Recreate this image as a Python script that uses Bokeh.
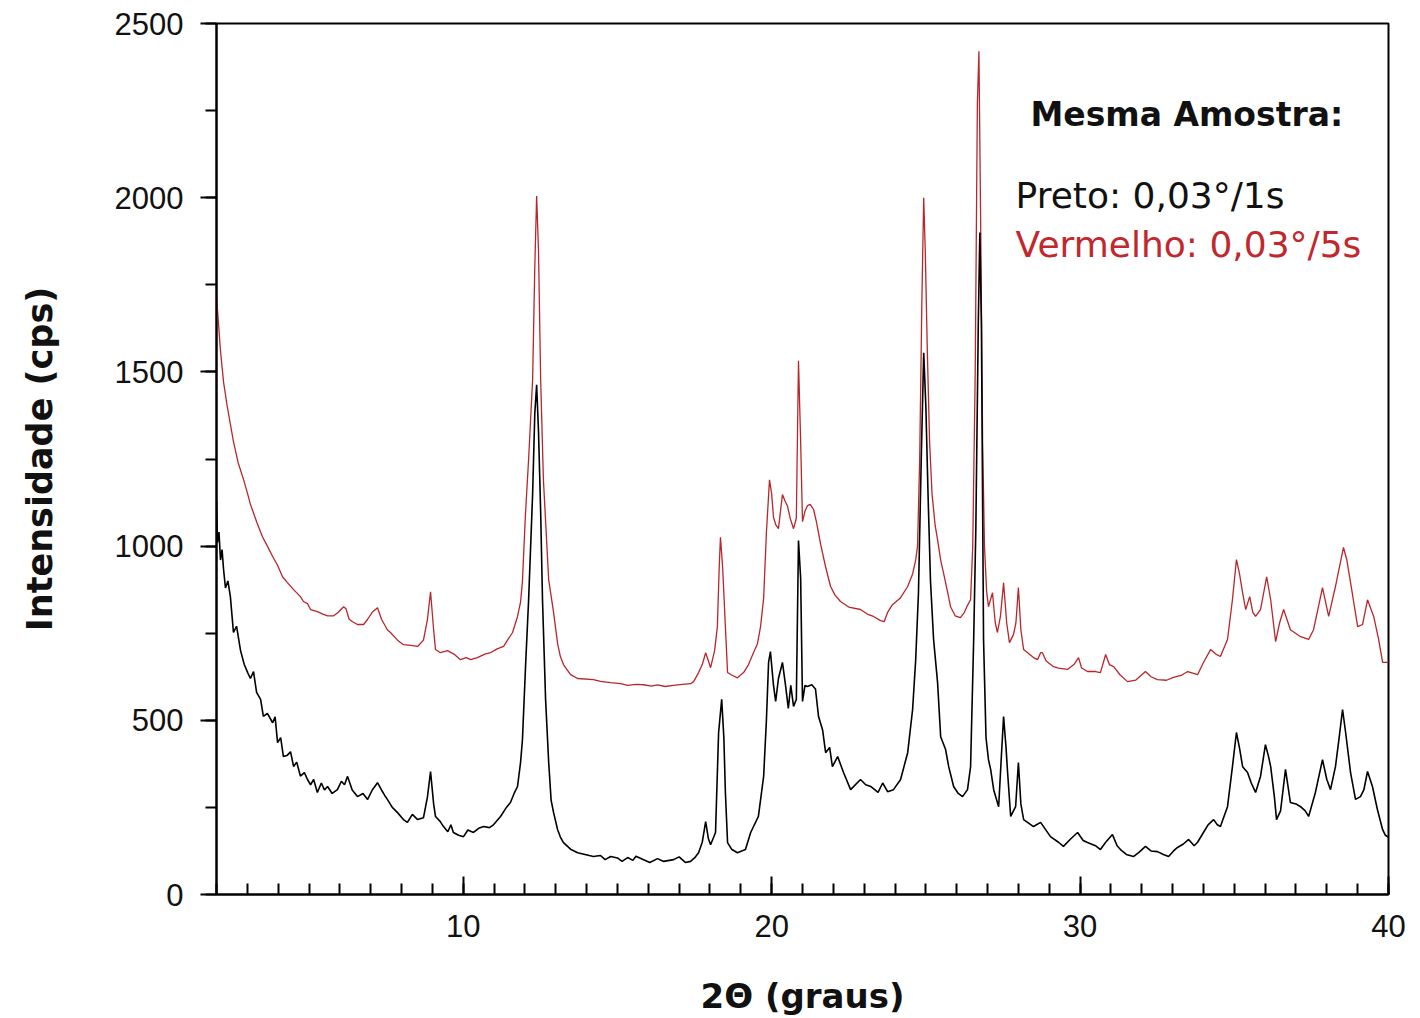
from bokeh.plotting import figure
from bokeh.models import Range1d, SingleIntervalTicker, Label
from bokeh.embed import file_html
from bokeh.resources import INLINE

# ---- data (2theta in degrees, intensity in cps) ----
red_x = [2.00, 2.03, 2.13, 2.23, 2.35, 2.45, 2.55, 2.70, 2.88, 3.01, 3.10, 3.30, 3.49, 3.65, 3.82, 3.98,
         4.14, 4.30, 4.50, 4.72, 4.82, 4.95, 5.05, 5.27, 5.45, 5.60, 5.80, 5.95, 6.12, 6.20, 6.30, 6.41,
         6.57, 6.77, 6.90, 7.05, 7.22, 7.35, 7.54, 7.64, 7.87, 8.06, 8.30, 8.52, 8.71, 8.84, 8.94, 9.04,
         9.10, 9.26, 9.49, 9.70, 9.91, 10.10, 10.24, 10.46, 10.70, 10.88, 11.10, 11.31, 11.44, 11.60,
         11.76, 11.86, 11.92, 12.02, 12.12, 12.25, 12.32, 12.38, 12.44, 12.51, 12.60, 12.77, 12.93,
         13.06, 13.15, 13.25, 13.48, 13.71, 14.22, 14.45, 14.78, 15.10, 15.33, 15.60, 15.85, 16.10,
         16.30, 16.55, 16.82, 17.10, 17.37, 17.47, 17.63, 17.75, 17.86, 17.95, 18.02, 18.15, 18.24,
         18.30, 18.34, 18.41, 18.50, 18.57, 18.70, 18.89, 19.09, 19.25, 19.41, 19.54, 19.64, 19.74,
         19.83, 19.93, 20.00, 20.06, 20.14, 20.22, 20.35, 20.43, 20.51, 20.60, 20.71, 20.80, 20.87,
         20.94, 21.00, 21.08, 21.16, 21.25, 21.36, 21.45, 21.59, 21.75, 21.91, 22.05, 22.23, 22.50,
         22.88, 23.10, 23.30, 23.53, 23.65, 23.76, 23.90, 24.18, 24.41, 24.57, 24.67, 24.73, 24.80,
         24.87, 24.93, 24.98, 25.05, 25.12, 25.20, 25.30, 25.38, 25.48, 25.57, 25.70, 25.80, 25.95,
         26.12, 26.25, 26.35, 26.45, 26.52, 26.60, 26.67, 26.72, 26.78, 26.84, 26.90, 26.97, 27.03,
         27.16, 27.25, 27.32, 27.42, 27.52, 27.62, 27.71, 27.84, 27.92, 28.00, 28.08, 28.17, 28.35,
         28.49, 28.62, 28.72, 28.78, 28.90, 29.14, 29.30, 29.59, 29.80, 29.95, 30.05, 30.24, 30.50,
         30.66, 30.83, 30.95, 31.09, 31.30, 31.54, 31.80, 32.12, 32.30, 32.51, 32.80, 33.03, 33.30,
         33.49, 33.81, 34.00, 34.23, 34.40, 34.55, 34.78, 34.94, 35.07, 35.17, 35.27, 35.37, 35.50,
         35.60, 35.69, 35.85, 36.05, 36.18, 36.34, 36.47, 36.60, 36.82, 37.15, 37.41, 37.57, 37.86,
         38.06, 38.28, 38.54, 38.65, 38.77, 39.00, 39.16, 39.32, 39.52, 39.68, 39.81, 40.00]
red_y = [1720, 1680, 1560, 1470, 1400, 1350, 1300, 1240, 1190, 1150, 1120, 1070, 1027, 1000, 970, 945,
         912, 895, 875, 855, 841, 835, 818, 812, 805, 800, 800, 810, 826, 820, 790, 783,
         775, 775, 790, 810, 823, 790, 760, 752, 730, 717, 715, 712, 730, 790, 869, 760,
         703, 694, 700, 690, 674, 680, 674, 680, 690, 694, 705, 712, 731, 752,
         798, 840, 900, 1096, 1250, 1478, 1800, 2005, 1850, 1478, 1190, 904, 809,
         720, 683, 660, 631, 620, 617, 612, 608, 605, 600, 603, 602, 598,
         602, 597, 600, 603, 605, 611, 637, 660, 694, 670, 651, 700, 769,
         941, 1025, 940, 769, 637, 630, 622, 637, 660, 694, 720, 769, 850,
         1039, 1190, 1150, 1082, 1060, 1050, 1148, 1130, 1116, 1080, 1050, 1080, 1532,
         1300, 1070, 1100, 1116, 1120, 1105, 1070, 1004, 940, 884, 860, 841, 825,
         818, 805, 798, 786, 783, 810, 830, 852, 884, 920, 960, 1000, 1250,
         1700, 2000, 1850, 1550, 1300, 1150, 1060, 1018, 960, 924, 870, 826, 800,
         795, 810, 830, 846, 1000, 1500, 2270, 2420, 1900, 1300, 1000, 870, 826,
         866, 780, 752, 800, 895, 780, 723, 746, 780, 881, 760, 703, 690,
         680, 674, 694, 694, 670, 654, 650, 646, 660, 680, 650, 640, 640,
         637, 689, 660, 654, 630, 611, 615, 640, 625, 617, 615, 623, 630,
         640, 631, 666, 703, 690, 683, 732, 846, 961, 920, 866, 818, 855,
         810, 798, 818, 912, 846, 726, 780, 818, 760, 740, 732, 760, 881,
         798, 884, 996, 960, 895, 769, 775, 846, 798, 732, 666, 666]

black_x = [2.00, 2.03, 2.08, 2.13, 2.18, 2.23, 2.29, 2.37, 2.45, 2.55, 2.65, 2.78, 2.90, 3.01, 3.10,
           3.20, 3.30, 3.43, 3.52, 3.65, 3.82, 3.90, 3.98, 4.08, 4.17, 4.30, 4.40, 4.50, 4.60, 4.72,
           4.85, 4.95, 5.05, 5.15, 5.27, 5.40, 5.50, 5.60, 5.75, 5.92, 6.05, 6.15, 6.25, 6.40, 6.57,
           6.75, 6.90, 7.05, 7.22, 7.35, 7.45, 7.54, 7.70, 7.87, 8.06, 8.19, 8.35, 8.52, 8.71, 8.84,
           8.94, 9.04, 9.10, 9.25, 9.36, 9.50, 9.60, 9.68, 9.85, 10.01, 10.15, 10.33, 10.50, 10.66,
           10.85, 10.98, 11.21, 11.40, 11.53, 11.65, 11.76, 11.86, 11.92, 12.02, 12.12, 12.25, 12.32,
           12.38, 12.44, 12.51, 12.57, 12.67, 12.77, 12.85, 12.93, 13.06, 13.15, 13.25, 13.48, 13.71,
           13.95, 14.22, 14.45, 14.60, 14.78, 15.00, 15.15, 15.33, 15.50, 15.60, 15.85, 16.05, 16.30,
           16.50, 16.82, 17.00, 17.20, 17.37, 17.50, 17.63, 17.75, 17.86, 17.95, 18.02, 18.18, 18.28,
           18.38, 18.45, 18.50, 18.57, 18.70, 18.89, 19.15, 19.32, 19.57, 19.74, 19.83, 19.90, 19.96,
           20.06, 20.13, 20.22, 20.35, 20.45, 20.54, 20.62, 20.71, 20.80, 20.87, 20.94, 21.00, 21.08,
           21.16, 21.30, 21.42, 21.52, 21.65, 21.75, 21.88, 21.97, 22.14, 22.33, 22.56, 22.88, 23.05,
           23.21, 23.45, 23.60, 23.76, 23.95, 24.18, 24.41, 24.57, 24.67, 24.76, 24.85, 24.93, 25.00,
           25.07, 25.15, 25.25, 25.38, 25.48, 25.64, 25.74, 25.90, 26.05, 26.19, 26.35, 26.45, 26.55,
           26.62, 26.70, 26.75, 26.80, 26.87, 26.95, 27.03, 27.10, 27.20, 27.36, 27.45, 27.52, 27.60,
           27.65, 27.75, 27.91, 28.00, 28.08, 28.17, 28.49, 28.72, 29.04, 29.30, 29.46, 29.70, 29.92,
           30.10, 30.24, 30.50, 30.66, 30.83, 31.05, 31.20, 31.31, 31.50, 31.73, 31.90, 32.12, 32.30,
           32.51, 32.70, 32.87, 33.03, 33.16, 33.35, 33.52, 33.70, 33.81, 34.00, 34.15, 34.33, 34.45,
           34.55, 34.78, 34.94, 35.07, 35.17, 35.27, 35.43, 35.55, 35.69, 35.85, 36.01, 36.10, 36.18,
           36.30, 36.37, 36.50, 36.66, 36.82, 37.00, 37.15, 37.30, 37.41, 37.63, 37.86, 38.00, 38.12,
           38.28, 38.40, 38.51, 38.61, 38.77, 38.93, 39.09, 39.20, 39.32, 39.48, 39.64, 39.81, 39.90,
           40.00]
black_y = [1130, 1010, 1040, 960, 990, 932, 880, 900, 855, 752, 770, 700, 660, 637, 620,
           640, 580, 560, 511, 520, 493, 510, 436, 450, 396, 400, 410, 367, 380, 340,
           350, 330, 315, 330, 293, 320, 300, 310, 290, 301, 325, 315, 339, 300, 281,
           290, 273, 300, 321, 300, 285, 273, 250, 235, 215, 207, 230, 215, 220, 280,
           353, 260, 224, 210, 195, 180, 200, 178, 170, 166, 185, 178, 190, 195,
           192, 200, 224, 250, 264, 290, 310, 380, 445, 654, 846, 1150, 1380,
           1463, 1330, 1100, 846, 560, 380, 270, 235, 186, 165, 149, 130, 120,
           115, 109, 112, 100, 109, 105, 95, 106, 98, 110, 100, 92, 103,
           95, 100, 108, 92, 95, 105, 120, 150, 209, 160, 143, 178, 465,
           560, 450, 293, 149, 130, 120, 129, 178, 224, 339, 500, 666, 697,
           600, 554, 620, 666, 600, 534, 600, 540, 560, 1016, 907, 554, 600,
           597, 602, 590, 511, 473, 407, 422, 367, 396, 350, 301, 330, 315,
           310, 293, 320, 295, 301, 330, 407, 531, 674, 866, 1250, 1555, 1400,
           1150, 900, 732, 608, 453, 416, 367, 310, 290, 281, 301, 367, 732,
           1050, 1640, 1900, 1640, 732, 450, 387, 359, 300, 252, 400, 511, 420,
           350, 224, 252, 379, 260, 215, 195, 207, 166, 150, 138, 160, 178,
           155, 149, 140, 129, 150, 172, 140, 129, 115, 109, 120, 138, 125,
           123, 115, 109, 125, 135, 145, 158, 140, 150, 178, 200, 215, 200,
           195, 252, 367, 465, 420, 367, 350, 320, 293, 339, 430, 400, 367,
           280, 215, 240, 359, 264, 260, 252, 240, 224, 293, 387, 330, 301,
           367, 450, 531, 465, 350, 273, 281, 300, 353, 310, 244, 186, 170,
           164]

x_ticks_interval = 10
y_ticks_interval = 500
title_text = "Mesma Amostra:"
legend_black = "Preto: 0,03°/1s"
legend_red = "Vermelho: 0,03°/5s"
RED = "#b8262b"

p = figure(width=1420, height=1018, output_backend="svg", toolbar_location=None,
           x_range=Range1d(2, 40), y_range=Range1d(0, 2500),
           min_border_left=216, min_border_right=32, min_border_top=23, min_border_bottom=123,
           background_fill_color="white", border_fill_color="white")
p.grid.visible = False
p.outline_line_color = "black"
p.outline_line_width = 2

p.line(red_x, red_y, line_color=RED, line_width=1.3)
p.line(black_x, black_y, line_color="black", line_width=1.6)

# axes
xa = p.xaxis[0]
xa.ticker = SingleIntervalTicker(interval=x_ticks_interval, num_minor_ticks=10)
xa.major_tick_in = 18
xa.major_tick_out = 0
xa.minor_tick_in = 11
xa.minor_tick_out = 0
xa.axis_line_width = 2
xa.major_tick_line_width = 2
xa.minor_tick_line_width = 2
xa.major_label_text_font = "Liberation Sans"
xa.major_label_text_font_size = "31px"
xa.major_label_text_color = "#111111"
xa.major_label_standoff = 20
xa.axis_label = "2Θ (graus)"
xa.axis_label_text_font = "DejaVu Sans"
xa.axis_label_text_font_style = "bold"
xa.axis_label_text_font_size = "34px"
xa.axis_label_text_color = "#111111"
xa.axis_label_standoff = 36

ya = p.yaxis[0]
ya.ticker = SingleIntervalTicker(interval=y_ticks_interval, num_minor_ticks=2)
ya.major_tick_in = 0
ya.major_tick_out = 16
ya.minor_tick_in = 0
ya.minor_tick_out = 11
ya.axis_line_width = 2
ya.major_tick_line_width = 2
ya.minor_tick_line_width = 2
ya.major_label_text_font = "Liberation Sans"
ya.major_label_text_font_size = "31px"
ya.major_label_text_color = "#111111"
ya.major_label_standoff = 17
ya.axis_label = "Intensidade (cps)"
ya.axis_label_text_font = "DejaVu Sans"
ya.axis_label_text_font_style = "bold"
ya.axis_label_text_font_size = "35px"
ya.axis_label_text_color = "#111111"
ya.axis_label_standoff = 52

# annotation texts
p.add_layout(Label(x=28.39, y=2238, text=title_text, text_font="DejaVu Sans",
                   text_font_style="bold", text_font_size="33px", text_color="#111111",
                   text_baseline="middle"))
p.add_layout(Label(x=27.91, y=2005, text=legend_black, text_font="DejaVu Sans",
                   text_font_size="36px", text_color="#111111", text_baseline="middle"))
p.add_layout(Label(x=27.91, y=1865, text=legend_red, text_font="DejaVu Sans",
                   text_font_size="36px", text_color="#c0282d", text_baseline="middle"))

open("out.html", "w").write(file_html(p, INLINE))
